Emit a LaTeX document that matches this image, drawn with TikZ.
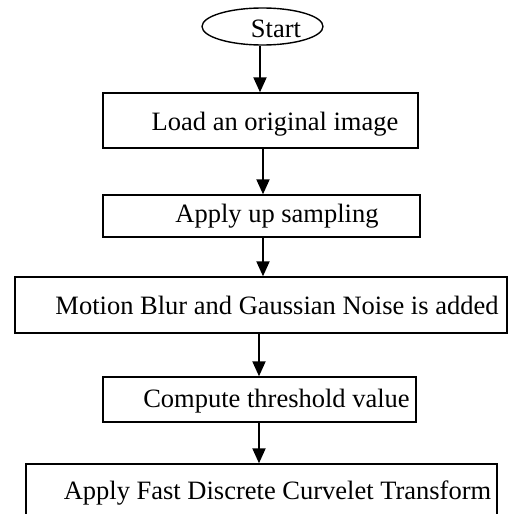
\documentclass[tikz,border=0pt]{standalone}
\usepackage{fontspec}
\setmainfont{Liberation Serif}
\usetikzlibrary{arrows.meta,shapes.geometric}
\begin{document}
\begin{tikzpicture}[x=1pt,y=-1pt,
  box/.style={draw=black,line width=1.4pt,rectangle,inner sep=0pt},
  lbl/.style={anchor=base,inner sep=0pt,font=\fontsize{26.5}{30}\selectfont},
  arr/.style={line width=2pt,-{Triangle[width=13pt,length=15pt]}}]
\clip (0,0) rectangle (510,514);
\fill[white] (0,0) rectangle (510,514);
\node[draw=black,line width=1.4pt,ellipse,minimum width=121pt,minimum height=37pt,inner sep=0pt] (st) at (262.5,26.5) {};
\node[lbl] (tst) at (276,37) {Start};
\node[box,minimum width=315pt,minimum height=55pt] (b1) at (260.5,120.5) {};
\node[lbl] (t1) at (275,130) {Load an original image};
\node[box,minimum width=317pt,minimum height=42pt] (b2) at (261.5,216) {};
\node[lbl] (t2) at (277,222) {Apply up sampling};
\node[box,minimum width=492pt,minimum height=56pt] (b3) at (261,305) {};
\node[lbl] (t3) at (277,314) {Motion Blur and Gaussian Noise is added};
\node[box,minimum width=313pt,minimum height=45pt] (b4) at (259.5,399.5) {};
\node[lbl] (t4) at (276.5,407) {Compute threshold value};
\node[box,minimum width=471pt,minimum height=70pt] (b5) at (261.5,499) {};
\node[lbl] (t5) at (277.5,499) {Apply Fast Discrete Curvelet Transform};
\coordinate (a0) at (260,0);
\coordinate (a1) at (263,0);
\coordinate (a3) at (259,0);
\draw[arr] (st.south -| a0) -- (b1.north -| a0);
\draw[arr] (b1.south -| a1) -- (b2.north -| a1);
\draw[arr] (b2.south -| a1) -- (b3.north -| a1);
\draw[arr] (b3.south -| a3) -- (b4.north -| a3);
\draw[arr] (b4.south -| a3) -- (b5.north -| a3);
\end{tikzpicture}
\end{document}
